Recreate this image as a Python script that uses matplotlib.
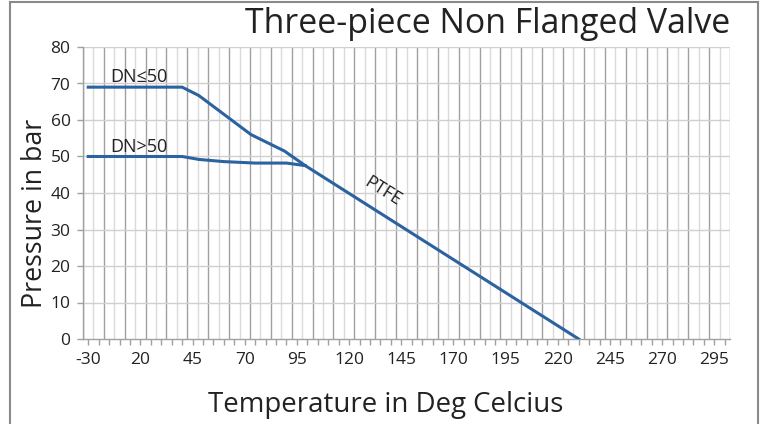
import matplotlib
matplotlib.use("Agg")
import matplotlib.pyplot as plt
import numpy as np
from matplotlib.patches import Rectangle

plt.rcParams['font.family'] = ['Open Sans', 'DejaVu Sans']

# data (temperature in deg C, pressure in bar)
dn_small_t = [-30, 40, 48, 73, 89, 99, 230]
dn_small_p = [69, 69, 66.7, 56, 51.5, 47.5, 0]
dn_large_t = [-30, 40, 48, 60, 75, 90, 99]
dn_large_p = [50, 50, 49.2, 48.6, 48.2, 48.2, 47.5]

tick_labels = [-30, 20, 45, 70, 95, 120, 145, 170, 195, 220, 245, 270, 295]
y_ticks = [0, 10, 20, 30, 40, 50, 60, 70, 80]

line_col = '#2b62a0'
text_col = '#222222'


# the axis squeezes everything below 20 deg to half width
def fwd(t):
    t = np.asarray(t, dtype=float)
    return np.where(t < 20, 20 + (t - 20) / 2, t)


def inv(d):
    d = np.asarray(d, dtype=float)
    return np.where(d < 20, 20 + (d - 20) * 2, d)


fig = plt.figure(figsize=(7.65, 4.24), dpi=100)
ax = fig.add_axes([83 / 765, 85 / 424, 647 / 765, 292 / 424])
ax.set_xscale('function', functions=(fwd, inv))
ax.set_xlim(-35, 302.5)
ax.set_ylim(0, 80)

# vertical grid sits between tick marks, alternating dark / light
grid_pos = np.arange(-7.5, 303, 5)
for i, d in enumerate(grid_pos):
    c = '#a0a0a0' if i % 2 == 0 else '#dadada'
    ax.axvline(float(inv(d)), color=c, lw=1.0, zorder=1)
for y in y_ticks[1:]:
    ax.axhline(y, color='#d0d0d0', lw=1.0, zorder=1)

ax.plot(dn_small_t, dn_small_p, color=line_col, lw=2.2, zorder=3,
        solid_joinstyle='round')
ax.plot(dn_large_t, dn_large_p, color=line_col, lw=2.2, zorder=3,
        solid_joinstyle='round')

ax.text(-9, 70.3, 'DN≤50', fontsize=13, color=text_col, zorder=4)
ax.text(-9, 51.1, 'DN>50', fontsize=13, color=text_col, zorder=4)
ax.text(136, 40.4, 'PTFE', fontsize=13, color=text_col, rotation=-32,
        ha='center', va='center', zorder=4)

ax.set_xticks(tick_labels)
ax.set_xticklabels([str(t) for t in tick_labels])
minor = [float(inv(d)) for d in np.arange(-5, 301, 5)]
ax.set_xticks(minor, minor=True)
ax.set_yticks(y_ticks)

ax.tick_params(axis='both', which='both', direction='out', length=4,
               width=1, color='#a0a0a0', labelsize=12.5, labelcolor=text_col)
ax.tick_params(axis='x', pad=5)
ax.tick_params(axis='y', pad=5)

for side in ['top', 'right']:
    ax.spines[side].set_visible(False)
for side in ['left', 'bottom']:
    ax.spines[side].set_color('#a0a0a0')
    ax.spines[side].set_linewidth(1.0)

fig.text(730 / 765, 1 - 33 / 424, 'Three-piece Non Flanged Valve',
         fontsize=24.4, color=text_col, ha='right', va='baseline')
fig.text(386 / 765, 1 - 412 / 424, 'Temperature in Deg Celcius',
         fontsize=19.9, color=text_col, ha='center', va='baseline')
fig.text(35 / 765, 1 - 213 / 424, 'Pressure in bar', fontsize=19.3,
         color=text_col, ha='center', va='center', rotation=90)

# grey frame round the picture
fig.patches.append(Rectangle((10 / 765, -0.02), 748 / 765, 1.015,
                             transform=fig.transFigure, fill=False,
                             edgecolor='#8a8a8a', lw=1.5))

fig.savefig('out.png', dpi=100)
